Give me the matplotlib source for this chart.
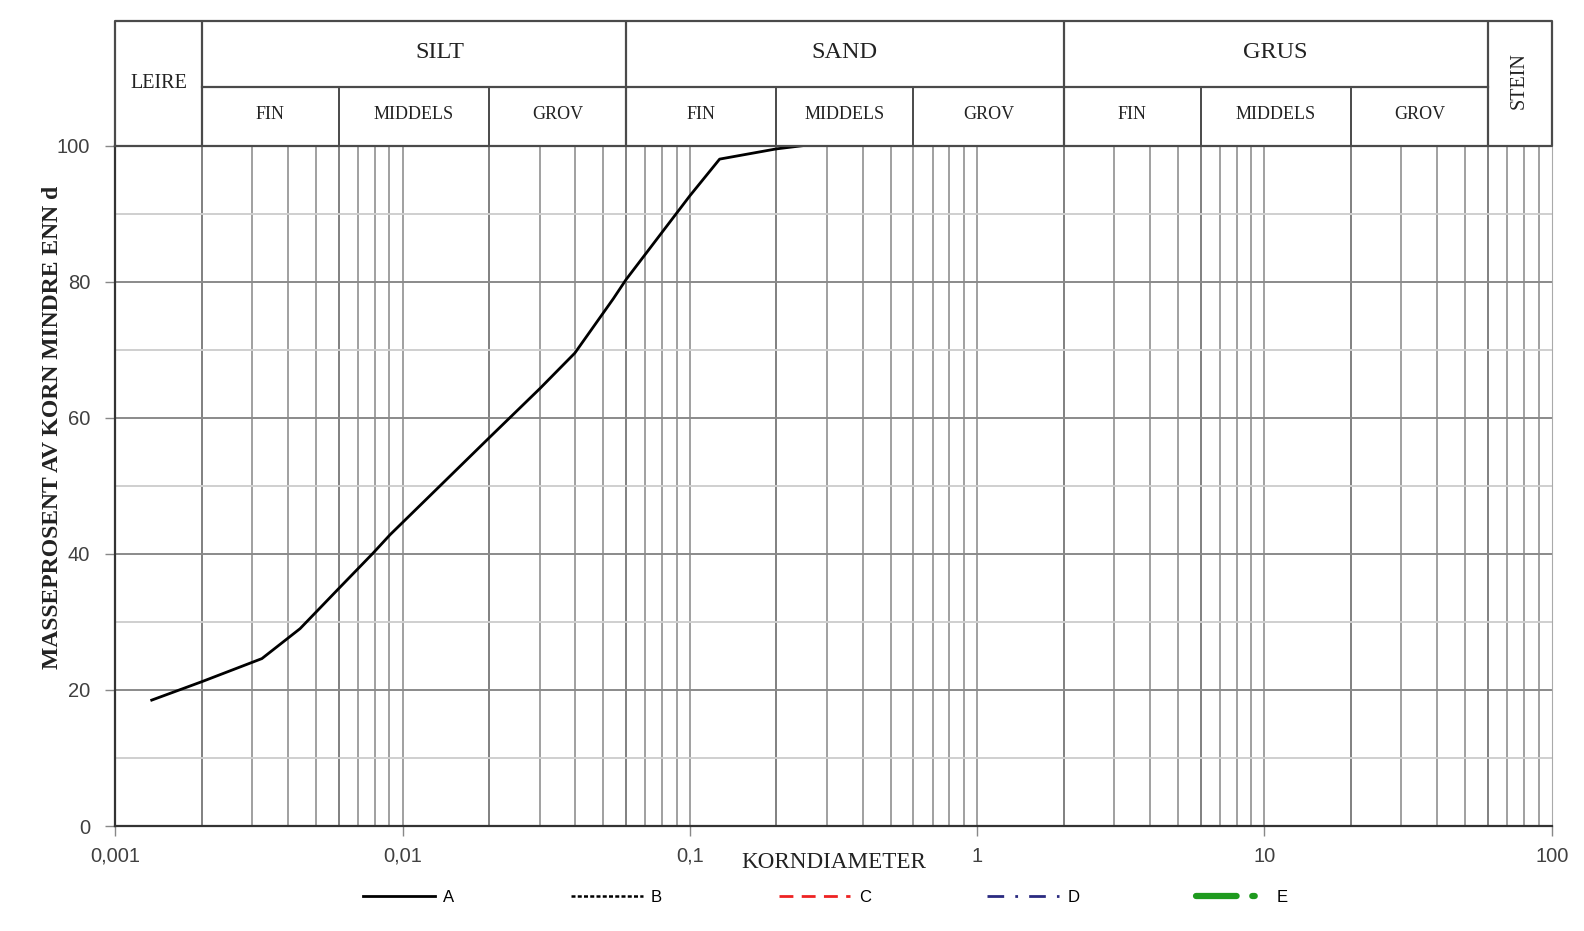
import numpy as np
import matplotlib.pyplot as plt
from matplotlib.lines import Line2D
from matplotlib.ticker import FixedLocator, NullFormatter

# kornfordelingskurve (sample A)
diameter = [0.00134, 0.002, 0.00324, 0.0044, 0.006, 0.0079, 0.00905, 0.0202,
            0.0301, 0.0398, 0.0542, 0.06, 0.1, 0.127, 0.2, 0.25]
passing = [18.5, 21.2, 24.6, 29.0, 34.9, 40.1, 42.8, 57.2,
           64.3, 69.5, 77.5, 80.3, 92.6, 98.0, 99.5, 100.0]

x_ticks = [0.001, 0.01, 0.1, 1, 10, 100]
x_ticklabels = ["0,001", "0,01", "0,1", "1", "10", "100"]
y_ticks = [0, 20, 40, 60, 80, 100]

# header table
main_classes = ["LEIRE", "SILT", "SAND", "GRUS", "STEIN"]
main_bounds = [0.001, 0.002, 0.06, 2, 60, 100]
main_label_x = [0.00142, 0.0135, 0.345, 10.9, 77.0]
sub_classes = ["FIN", "MIDDELS", "GROV"] * 3
sub_bounds = [0.002, 0.006, 0.02, 0.06, 0.2, 0.6, 2, 6, 20, 60]

legend_labels = ["A", "B", "C", "D", "E"]

W, H = 1584, 931
fig = plt.figure(figsize=(W / 100, H / 100), dpi=100)
left, right = 115.2 / W, 1551.7 / W
ax = fig.add_axes([left, 1 - 826 / H, right - left, (826 - 145.5) / H])
hax = fig.add_axes([left, 1 - 145.5 / H, right - left, (145.5 - 20.5) / H])

serif = "Liberation Serif"
sans = "Liberation Sans"

# ---- main chart ----
ax.set_xscale("log")
ax.set_xlim(0.001, 100)
ax.set_ylim(0, 100)

minor = [m * 10.0 ** k for k in range(-3, 2) for m in range(2, 10)]
for v in minor + x_ticks[1:-1]:
    c = "#808080" if v in main_bounds or v in sub_bounds else "#a0a0a0"
    ax.axvline(v, color=c, lw=1.4, zorder=1)
for v in range(10, 100, 10):
    c = "#8a8a8a" if v % 20 == 0 else "#cfcfcf"
    ax.axhline(v, color=c, lw=1.4, zorder=1)

ax.plot(diameter, passing, color="black", lw=2, zorder=3)

ax.xaxis.set_major_locator(FixedLocator(x_ticks))
ax.set_xticklabels(x_ticklabels)
ax.xaxis.set_minor_formatter(NullFormatter())
ax.tick_params(axis="x", which="minor", length=0)
ax.set_yticks(y_ticks)
ax.tick_params(axis="both", which="major", length=7, width=1, color="#888888",
               labelsize=14.5, labelcolor="#404040")
ax.tick_params(axis="x", pad=8)
ax.tick_params(axis="y", pad=11)
for lab in ax.get_xticklabels() + ax.get_yticklabels():
    lab.set_family(sans)

for s in ["left", "bottom"]:
    ax.spines[s].set_color("#333333")
    ax.spines[s].set_linewidth(1.6)
ax.spines["right"].set_color("#aaaaaa")
ax.spines["top"].set_visible(False)

fig.text(52.5 / W, 1 - 427 / H, "MASSEPROSENT AV KORN MINDRE ENN d",
         rotation=90, ha="center", va="center", family=serif,
         fontweight="bold", fontsize=17, color="#222222")
fig.text(834 / W, 1 - 862 / H, "KORNDIAMETER", ha="center", va="center",
         family=serif, fontsize=16.7, color="#222222")

# ---- header table ----
hax.set_xscale("log")
hax.set_xlim(0.001, 100)
hax.set_ylim(0, 1)
hax.axis("off")
lc = "#4a4a4a"
split = 0.47
hax.plot([0.001, 100, 100, 0.001, 0.001], [0, 0, 1, 1, 0], color=lc, lw=1.6,
         clip_on=False)
hax.plot([0.002, 60], [split, split], color=lc, lw=1.6)
for b in main_bounds[1:-1]:
    hax.plot([b, b], [0, 1], color=lc, lw=1.6)
for b in sub_bounds:
    hax.plot([b, b], [0, split], color=lc, lw=1.4)

for name, xc in zip(main_classes, main_label_x):
    if name == "LEIRE":
        hax.text(xc, 0.5, name, ha="center", va="center", family=serif,
                 fontsize=14.5, color="#222222")
    elif name == "STEIN":
        hax.text(xc, 0.52, name, ha="center", va="center", family=serif,
                 fontsize=14.5, rotation=90, color="#222222")
    else:
        hax.text(xc, 0.74, name, ha="center", va="center", family=serif,
                 fontsize=17.5, color="#222222")
for i, name in enumerate(sub_classes):
    xc = np.sqrt(sub_bounds[i] * sub_bounds[i + 1])
    hax.text(xc, 0.245, name, ha="center", va="center", family=serif,
             fontsize=13, color="#222222")

# ---- legend ----
handles = [
    Line2D([], [], color="black", lw=2),
    Line2D([], [], color="black", lw=1.8, linestyle=(0, (1.6, 0.9))),
    Line2D([], [], color="#ee2222", lw=2, linestyle=(0, (5, 3))),
    Line2D([], [], color="#2a2a80", lw=2, linestyle=(0, (6, 4, 1, 4))),
    Line2D([], [], color="#1e9a1e", lw=4.5, linestyle=(0, (6.5, 2.5, 0.4, 2.5)),
           solid_capstyle="round", dash_capstyle="round"),
]
fig.legend(handles, legend_labels, loc="center", bbox_to_anchor=(0.521, 0.0365),
           ncol=5, frameon=False, handlelength=4.3, handletextpad=0.5,
           columnspacing=7.0, prop={"family": sans, "size": 12})

fig.savefig("out.png", dpi=100)
